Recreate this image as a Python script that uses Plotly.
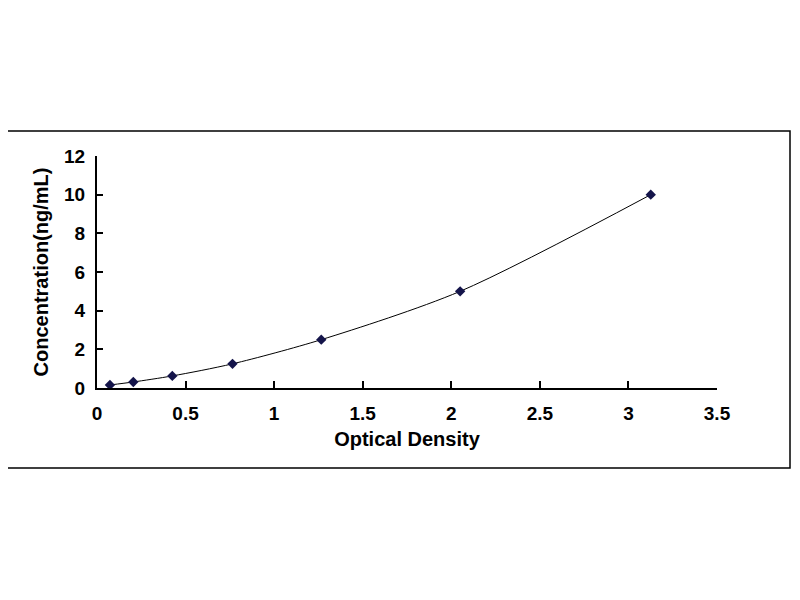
import plotly.graph_objects as go

# standard curve values
optical_density = [0.073, 0.205, 0.425, 0.765, 1.266, 2.05, 3.126]
concentration = [0.156, 0.312, 0.625, 1.25, 2.5, 5, 10]

x_ticks = [0, 0.5, 1, 1.5, 2, 2.5, 3, 3.5]
y_ticks = [0, 2, 4, 6, 8, 10, 12]

# the page body adds an 8px offset, so layout is in figure pixels
OFF = 8
W, H = 800, 600
L, R, T, B = 97 - OFF, 83 + OFF, 156 - OFF, 212 + OFF
pw, ph = W - L - R, H - T - B


def px_to_paper(x, y):
    # page pixel -> paper coords
    return (x - OFF - L) / pw, (H - B - (y - OFF)) / ph


fig = go.Figure()
fig.add_trace(go.Scatter(
    x=optical_density, y=concentration,
    mode="lines+markers",
    line=dict(color="black", width=1, shape="spline", smoothing=0.8),
    marker=dict(symbol="diamond", size=8, color="#14144a"),
    showlegend=False,
))

x0, y0 = px_to_paper(3, 131)
x1, y1 = px_to_paper(790, 468)
fig.add_shape(type="rect", xref="paper", yref="paper",
              x0=x0, y0=y1, x1=x1, y1=y0,
              line=dict(color="black", width=1.5))

tick_font = dict(family="Liberation Sans", size=19, color="black")
fig.update_layout(
    width=W, height=H,
    margin=dict(l=L, r=R, t=T, b=B),
    paper_bgcolor="white", plot_bgcolor="white",
    font=dict(family="Liberation Sans", color="black"),
    xaxis=dict(
        range=[0, 3.5], tickvals=x_ticks,
        ticktext=["<b>%g</b>" % v for v in x_ticks],
        tickfont=tick_font,
        showgrid=False, zeroline=False,
        showline=True, linecolor="black", linewidth=2,
        ticks="inside", ticklen=7, tickwidth=2, tickcolor="black",
        ticklabelstandoff=7,
        title=dict(text="<b>Optical Density</b>", font=dict(size=20), standoff=9),
    ),
    yaxis=dict(
        range=[0, 12], tickvals=y_ticks,
        ticktext=["<b>%g</b>" % v for v in y_ticks],
        tickfont=tick_font,
        showgrid=False, zeroline=False,
        showline=True, linecolor="black", linewidth=2,
        ticks="inside", ticklen=6, tickwidth=2, tickcolor="black",
        ticklabelstandoff=6,
        title=dict(text="<b>Concentration(ng/mL)</b>", font=dict(size=20), standoff=10),
    ),
)

fig.write_html("out.html")
